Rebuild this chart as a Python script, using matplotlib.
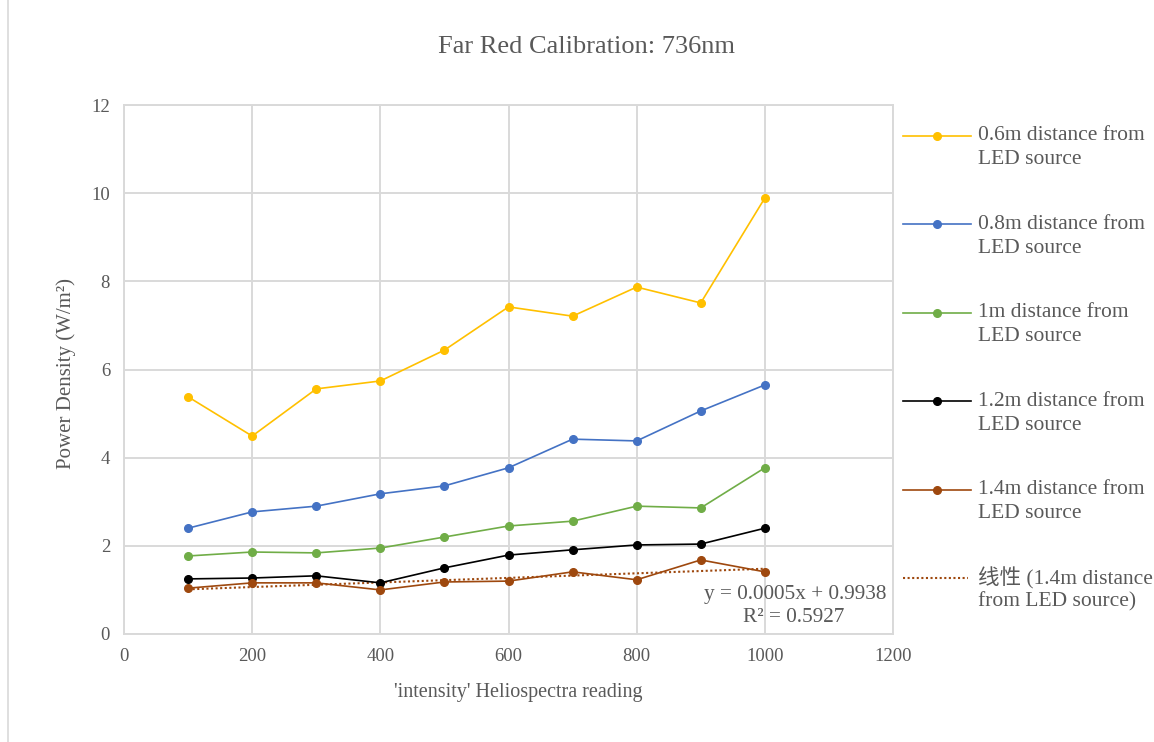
import numpy as np
import matplotlib.pyplot as plt
from matplotlib.lines import Line2D
from matplotlib.patches import Rectangle

# data
intensity = [100, 200, 300, 400, 500, 600, 700, 800, 900, 1000]
d_06 = [5.38, 4.49, 5.56, 5.74, 6.44, 7.42, 7.21, 7.87, 7.51, 9.89]
d_08 = [2.40, 2.77, 2.90, 3.18, 3.36, 3.77, 4.42, 4.38, 5.06, 5.65]
d_10 = [1.77, 1.86, 1.84, 1.95, 2.20, 2.45, 2.56, 2.90, 2.86, 3.77]
d_12 = [1.25, 1.27, 1.32, 1.16, 1.50, 1.79, 1.91, 2.02, 2.04, 2.40]
d_14 = [1.04, 1.16, 1.16, 1.00, 1.18, 1.20, 1.41, 1.23, 1.68, 1.41]

labels = [
    "0.6m distance from\nLED source",
    "0.8m distance from\nLED source",
    "1m distance from\nLED source",
    "1.2m distance from\nLED source",
    "1.4m distance from\nLED source",
]
colors = ["#FFC000", "#4472C4", "#70AD47", "#000000", "#9E480E"]
series = [d_06, d_08, d_10, d_12, d_14]
trend_label = "线性 (1.4m distance\nfrom LED source)"

txt = "#595959"
grid = "#d9d9d9"
serif = ["Liberation Serif", "Noto Sans CJK SC", "DejaVu Sans"]
plt.rcParams["font.family"] = serif

W, H = 1154, 742
fig = plt.figure(figsize=(W / 100, H / 100), dpi=100)


def fx(px):
    return px / W


def fy(py):
    return 1 - py / H


ax = fig.add_axes([fx(124), fy(634), fx(893) - fx(124), fy(105) - fy(634)])

for vals, c in zip(series, colors):
    ax.plot(intensity, vals, color=c, lw=1.2, marker="o", ms=5.5, zorder=3)

# linear trendline for the 1.4m series
slope, icpt = np.polyfit(intensity, d_14, 1)
xs = np.array([intensity[0], intensity[-1]])
ax.plot(xs, slope * xs + icpt, color=colors[-1], lw=1.5, ls=(0, (1, 1.2)), zorder=2)

ax.set_xlim(0, 1200)
ax.set_ylim(0, 12)
ax.set_xticks(range(0, 1201, 200))
ax.set_yticks(range(0, 13, 2))
ax.grid(True, color=grid, lw=1.4)
ax.set_axisbelow(True)
ax.tick_params(length=0, labelsize=13.5, labelcolor=txt, pad=10)
for s in ax.spines.values():
    s.set_color(grid)
    s.set_linewidth(1.4)

fig.text(fx(587), fy(47), "Far Red Calibration: 736nm", ha="center", va="center",
         fontsize=19, color=txt)
fig.text(fx(518), fy(692), "'intensity' Heliospectra reading", ha="center", va="center",
         fontsize=14.5, color=txt)
fig.text(fx(66), fy(373), "Power Density (W/m²)", ha="center", va="center",
         rotation=90, fontsize=15, color=txt)

fig.text(fx(795), fy(594), "y = 0.0005x + 0.9938", ha="center", va="center",
         fontsize=15.3, color=txt)
fig.text(fx(794), fy(618), "R² = 0.5927", ha="center", va="center",
         fontsize=15.3, color=txt)

# legend drawn by hand so the handle sits on the first text line
entries = list(zip(labels, colors, ["-"] * 5)) + [(trend_label, colors[-1], ":")]
for i, (lab, c, ls) in enumerate(entries):
    y = 136 + i * 88.4
    if ls == "-":
        fig.add_artist(Line2D([fx(903), fx(971)], [fy(y), fy(y)], color=c, lw=1.2,
                              transform=fig.transFigure))
        fig.add_artist(Line2D([fx(937)], [fy(y)], color=c, marker="o", ms=5.5,
                              transform=fig.transFigure))
    else:
        fig.add_artist(Line2D([fx(903), fx(968)], [fy(y), fy(y)], color=c, lw=1.5,
                              ls=(0, (1, 1.2)), transform=fig.transFigure))
    for j, line in enumerate(lab.split("\n")):
        fig.text(fx(978), fy(y + 24 * j), line, ha="left", va="center",
                 fontsize=15.5, color=txt, family=serif)

fig.add_artist(Rectangle((fx(8), -0.01), 1.0, 1.02, fill=False, edgecolor=grid,
                         lw=1.2, transform=fig.transFigure))

fig.savefig("out.png", dpi=100)
